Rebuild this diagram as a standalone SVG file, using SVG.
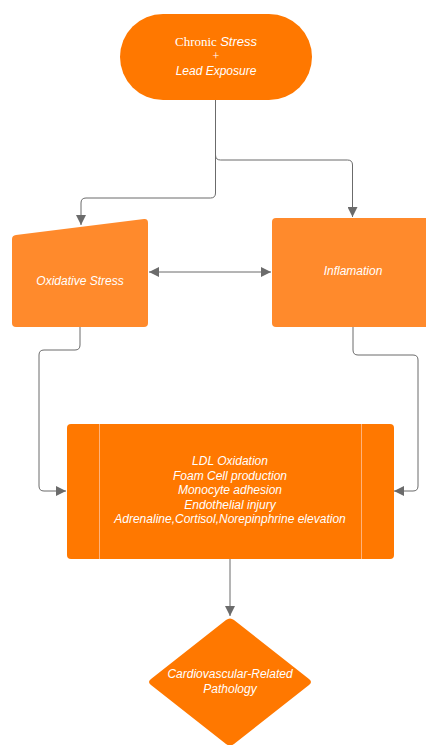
<svg xmlns="http://www.w3.org/2000/svg" width="426" height="745" viewBox="0 0 426 745">
<style>
.t{font-family:"Liberation Sans",Arial,sans-serif;font-style:italic;font-size:12px;fill:#fff;text-anchor:middle}
.c{fill:none;stroke:#6b6b6b;stroke-width:1}
.dark{fill:#ff7800}
.light{fill:#ff8a2c}
</style>
<defs>
<marker id="a" viewBox="0 0 10 10" refX="10" refY="5" markerWidth="10" markerHeight="10" markerUnits="userSpaceOnUse" orient="auto-start-reverse">
<path d="M0,0 L10,5 L0,10 Z" fill="#6b6b6b"/>
</marker>
</defs>
<rect width="426" height="745" fill="#fff"/>
<g id="connectors">
<path class="c" d="M215.5,100 V155 Q215.5,160 220.5,160 H347.5 Q352.5,160 352.5,165 V217" marker-end="url(#a)"/>
<path class="c" d="M215.5,150 V193 Q215.5,198 210.5,198 H86 Q81,198 81,203 V225" marker-end="url(#a)"/>
<path class="c" d="M149,272 H271" marker-start="url(#a)" marker-end="url(#a)"/>
<path class="c" d="M80,327 V345 Q80,350 75,350 H44 Q39,350 39,355 V486 Q39,491 44,491 H66" marker-end="url(#a)"/>
<path class="c" d="M353,327 V350 Q353,355 358,355 H413 Q418,355 418,360 V486 Q418,491 413,491 H394" marker-end="url(#a)"/>
<path class="c" d="M230,559 V616" marker-end="url(#a)"/>
</g>
<g id="start">
<rect class="dark" x="120" y="14" width="192" height="86" rx="43"/>
<text x="216" y="46" style="font-size:13px;fill:#fff;text-anchor:middle"><tspan style="font-family:'Liberation Serif',serif">Chronic </tspan><tspan style="font-family:'Liberation Sans',sans-serif;font-style:italic">Stress</tspan></text>
<text x="216" y="60" style="font-family:'Liberation Serif',serif;font-size:12px;fill:#fff;text-anchor:middle">+</text>
<text class="t" x="216" y="75">Lead Exposure</text>
</g>
<g id="oxidative">
<path class="light" d="M16,235 L144,219 Q148,218.5 148,223 V323 Q148,327 144,327 H16 Q12,327 12,323 V239 Q12,235.5 16,235 Z"/>
<text class="t" x="80" y="285">Oxidative Stress</text>
</g>
<g id="inflamation">
<rect class="light" x="272" y="218" width="162" height="109" rx="4"/>
<text class="t" x="353" y="275">Inflamation</text>
</g>
<g id="process">
<rect class="dark" x="67" y="424" width="327" height="135" rx="4"/>
<line x1="99.5" y1="424" x2="99.5" y2="559" stroke="#ffb27a" stroke-width="1"/>
<line x1="361.5" y1="424" x2="361.5" y2="559" stroke="#ffb27a" stroke-width="1"/>
<text class="t" x="230" y="465">LDL Oxidation</text>
<text class="t" x="230" y="479.5">Foam Cell production</text>
<text class="t" x="230" y="494">Monocyte adhesion</text>
<text class="t" x="230" y="508.5">Endothelial injury</text>
<text class="t" x="230" y="523">Adrenaline,Cortisol,Norepinphrine elevation</text>
</g>
<g id="pathology">
<path class="dark" d="M226,620 Q230,617 234,620 L309,679 Q313,682 309,685 L234,744 Q230,747 226,744 L151,685 Q147,682 151,679 Z"/>
<text class="t" x="230" y="678">Cardiovascular-Related</text>
<text class="t" x="230" y="693">Pathology</text>
</g>
</svg>
